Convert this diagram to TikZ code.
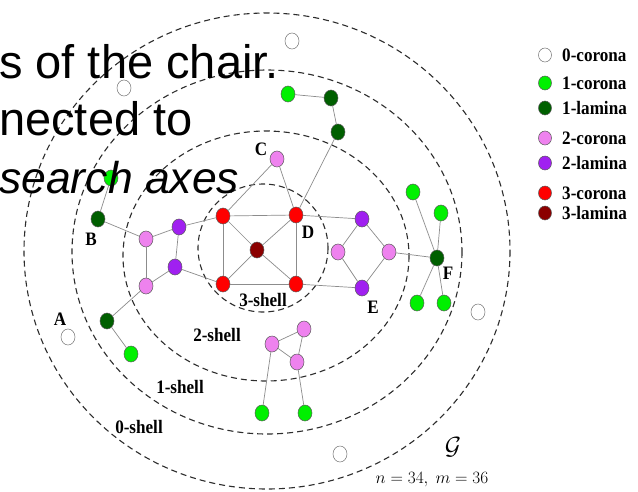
\documentclass[tikz,border=0pt]{standalone}
\usepackage[no-math]{fontspec}
\usepackage{graphicx}
\setmainfont{Liberation Serif}
\newfontfamily\bigsans{Liberation Sans}
\usetikzlibrary{shapes.geometric}
\definecolor{cgreen}{RGB}{0,240,0}
\definecolor{cdgreen}{RGB}{0,95,0}
\definecolor{cpink}{RGB}{238,130,238}
\definecolor{cpurple}{RGB}{160,32,240}
\definecolor{cred}{RGB}{255,0,0}
\definecolor{cdred}{RGB}{139,0,0}
\definecolor{shellc}{RGB}{45,45,45}
\newcommand\nlab[1]{\scalebox{0.9}[1]{\fontsize{19}{19}\selectfont\bfseries #1}}
\begin{document}
\begin{tikzpicture}[x=1pt,y=-1pt,
  vtx/.style={ellipse,draw=black!65,line width=0.5pt,minimum width=14pt,minimum height=16pt,inner sep=0pt},
  ov/.style={vtx,fill=white,draw=black!55},
  gv/.style={vtx,fill=cgreen},
  dgv/.style={vtx,fill=cdgreen},
  pv/.style={vtx,fill=cpink},
  uv/.style={vtx,fill=cpurple},
  rv/.style={vtx,fill=cred},
  drv/.style={vtx,fill=cdred},
  lv/.style={ellipse,draw=black!65,line width=0.5pt,minimum width=13pt,minimum height=14pt,inner sep=0pt},
  shell/.style={draw=shellc,line width=1.1pt,dash pattern=on 6pt off 4pt},
  edge/.style={draw=black!45,line width=0.7pt},
  lab/.style={inner sep=0pt},
  bigtxt/.style={inner sep=0pt,anchor=base west,font=\bigsans\fontsize{47}{47}\selectfont}]
\useasboundingbox[fill=white] (0,0) rectangle (638,491);
% shells
\draw[shell] (263,248) ellipse [x radius=65,y radius=64];
\draw[shell] (266,256) ellipse [x radius=143,y radius=125];
\draw[shell] (267,252) ellipse [x radius=195,y radius=182];
\draw[shell] (267,251) ellipse [x radius=243,y radius=238];
% open vertices
\node[ov] (o1) at (292,41) {};
\node[ov] (o2) at (124,88) {};
\node[ov] (oA) at (68,337) {};
\node[ov] (oR) at (478,312) {};
\node[ov] (oG) at (340,454) {};
% green
\node[gv] (g1) at (288,94) {};
\node[gv] (gB) at (111,178) {};
\node[gv] (gL) at (131,354) {};
\node[gv] (gT1) at (262,413) {};
\node[gv] (gT2) at (305,413) {};
\node[gv] (gF1) at (413,192) {};
\node[gv] (gF2) at (441,213) {};
\node[gv] (gF3) at (417,303) {};
\node[gv] (gF4) at (444,303) {};
% dark green
\node[dgv] (dg1) at (331,98) {};
\node[dgv] (dg2) at (338,132) {};
\node[dgv] (B) at (98,219) {};
\node[dgv] (dgL) at (107,321) {};
\node[dgv] (F) at (437,258) {};
% pink
\node[pv] (C) at (277,159) {};
\node[pv] (p1) at (146,239) {};
\node[pv] (p2) at (146,286) {};
\node[pv] (pE1) at (338,252) {};
\node[pv] (pE2) at (389,252) {};
\node[pv] (pt1) at (272,344) {};
\node[pv] (pt2) at (304,329) {};
\node[pv] (pt3) at (297,362) {};
% purple
\node[uv] (q1) at (179,227) {};
\node[uv] (q2) at (175,267) {};
\node[uv] (qE1) at (362,219) {};
\node[uv] (qE2) at (362,288) {};
% red
\node[rv] (r1) at (223,216) {};
\node[rv] (r2) at (296,215) {};
\node[rv] (r3) at (223,284) {};
\node[rv] (r4) at (296,284) {};
\node[drv] (r0) at (257,250) {};
% edges
\draw[edge] (g1) -- (dg1);
\draw[edge] (dg1) -- (dg2);
\draw[edge] (dg2) -- (r2);
\draw[edge] (C) -- (r1);
\draw[edge] (C) -- (r2);
\draw[edge] (r1) -- (r2);
\draw[edge] (r1) -- (r3);
\draw[edge] (r2) -- (r4);
\draw[edge] (r3) -- (r4);
\draw[edge] (r0) -- (r1);
\draw[edge] (r0) -- (r2);
\draw[edge] (r0) -- (r3);
\draw[edge] (r0) -- (r4);
\draw[edge] (r2) -- (qE1);
\draw[edge] (r4) -- (qE2);
\draw[edge] (qE1) -- (pE1);
\draw[edge] (qE1) -- (pE2);
\draw[edge] (pE1) -- (qE2);
\draw[edge] (pE2) -- (qE2);
\draw[edge] (pE2) -- (F);
\draw[edge] (F) -- (gF1);
\draw[edge] (F) -- (gF2);
\draw[edge] (F) -- (gF3);
\draw[edge] (F) -- (gF4);
\draw[edge] (gB) -- (B);
\draw[edge] (B) -- (p1);
\draw[edge] (p1) -- (q1);
\draw[edge] (q1) -- (r1);
\draw[edge] (p1) -- (p2);
\draw[edge] (q1) -- (q2);
\draw[edge] (p2) -- (q2);
\draw[edge] (q2) -- (r3);
\draw[edge] (p2) -- (dgL);
\draw[edge] (dgL) -- (gL);
\draw[edge] (pt1) -- (pt2);
\draw[edge] (pt1) -- (pt3);
\draw[edge] (pt2) -- (pt3);
\draw[edge] (pt1) -- (gT1);
\draw[edge] (pt3) -- (gT2);
% vertex labels
\node[lab] (lC) at (261,149) {\nlab{C}};
\node[lab] (lD) at (308,232) {\nlab{D}};
\node[lab] (lB) at (91,239) {\nlab{B}};
\node[lab] (lA) at (60,319) {\nlab{A}};
\node[lab] (lE) at (373,307) {\nlab{E}};
\node[lab] (lF) at (448,273) {\nlab{F}};
% shell labels
\node[lab] (s3) at (263,300) {\nlab{3-shell}};
\node[lab] (s2) at (217,335) {\nlab{2-shell}};
\node[lab] (s1) at (180,387) {\nlab{1-shell}};
\node[lab] (s0) at (139,427) {\nlab{0-shell}};
% graph name
\node[lab] (gname) at (453,447) {\fontsize{26}{26}\selectfont$\mathcal{G}$};
\node[lab] (gnm) at (432,480) {\fontsize{17}{17}\selectfont$n=34,\ m=36$};
% legend
\node[lv,fill=white,draw=black!55] (k0) at (545,55) {};
\node[lv,fill=cgreen] (k1) at (545,83) {};
\node[lv,fill=cdgreen] (k2) at (545,108) {};
\node[lv,fill=cpink] (k3) at (545,138) {};
\node[lv,fill=cpurple] (k4) at (545,163) {};
\node[lv,fill=cred] (k5) at (545,193) {};
\node[lv,fill=cdred] (k6) at (545,213) {};
\node[lab,anchor=west] (t0) at (562,55) {\nlab{0-corona}};
\node[lab,anchor=west] (t1) at (562,83) {\nlab{1-corona}};
\node[lab,anchor=west] (t2) at (562,108) {\nlab{1-lamina}};
\node[lab,anchor=west] (t3) at (562,138) {\nlab{2-corona}};
\node[lab,anchor=west] (t4) at (562,163) {\nlab{2-lamina}};
\node[lab,anchor=west] (t5) at (562,193) {\nlab{3-corona}};
\node[lab,anchor=west] (t6) at (562,213) {\nlab{3-lamina}};
% overlay text
\node[bigtxt] (b1) at (-1,78) {s of the chair.};
\node[bigtxt] (b2) at (-1,135) {nected to};
\node[bigtxt,font=\bigsans\fontsize{44.5}{44.5}\selectfont] (b3) at (-1,193) {\itshape search axes};
\end{tikzpicture}
\end{document}
